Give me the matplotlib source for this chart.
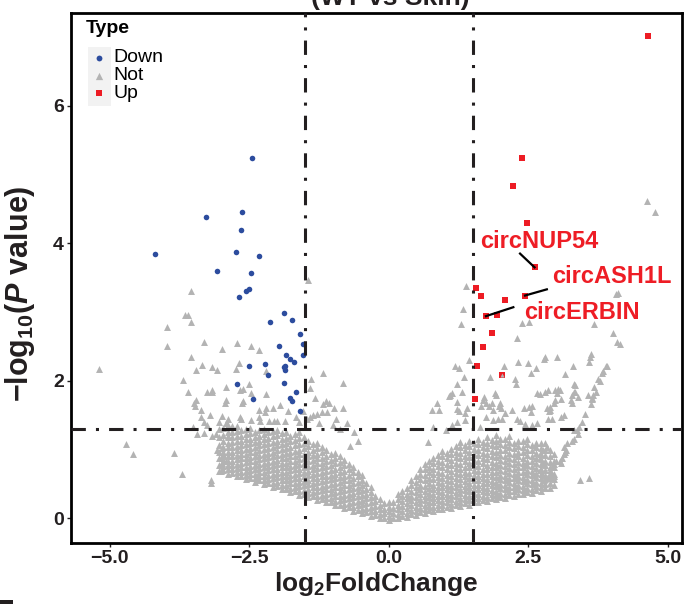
import numpy as np
import matplotlib.pyplot as plt
from matplotlib.patches import Rectangle

plt.rcParams['font.family'] = ['Liberation Sans', 'DejaVu Sans']
plt.rcParams['mathtext.fontset'] = 'custom'
plt.rcParams['mathtext.rm'] = 'Liberation Sans:bold'
plt.rcParams['mathtext.it'] = 'Liberation Sans:bold:italic'
plt.rcParams['mathtext.bf'] = 'Liberation Sans:bold'

# ---- data (log2FC, -log10 P) ----
down_fc = [-2.45, -3.28, -2.63, -2.65, -4.18, -2.74, -2.33, -3.07, -2.47, -2.50,
           -2.56, -2.68, -1.88, -2.13, -1.73, -1.59, -1.54, -1.96, -1.54, -1.84,
           -1.76, -1.69, -2.21, -2.50, -1.88, -1.85, -1.86, -2.16, -1.88, -2.71,
           -1.66, -2.44, -1.76, -1.74, -1.59]
down_p = [5.24, 4.38, 4.45, 4.19, 3.85, 3.87, 3.81, 3.60, 3.57, 3.33,
          3.30, 3.22, 2.98, 2.85, 2.88, 2.68, 2.54, 2.51, 2.37, 2.37,
          2.31, 2.27, 2.24, 2.22, 2.20, 2.21, 2.16, 2.09, 1.97, 1.95,
          1.83, 1.73, 1.75, 1.71, 1.56]

up_fc = [4.65, 2.39, 2.22, 2.47, 2.61, 1.56, 1.66, 2.08, 2.44, 1.74,
         1.94, 1.85, 1.68, 1.58, 2.02, 1.54]
up_p = [7.01, 5.24, 4.83, 4.30, 3.65, 3.35, 3.23, 3.18, 3.24, 2.94,
        2.95, 2.70, 2.49, 2.21, 2.08, 1.73]

# sparse "Not" points, left half
not_left = [
    (-5.19, 2.17), (-4.71, 1.08), (-4.58, 0.94), (-3.97, 2.78), (-3.98, 2.51),
    (-3.84, 0.95), (-3.71, 0.64), (-3.68, 2.01), (-3.65, 2.96), (-3.59, 2.95),
    (-3.55, 2.86), (-3.55, 3.31), (-3.54, 2.35), (-3.59, 1.83), (-3.51, 1.33),
    (-3.49, 1.68), (-3.47, 1.64), (-3.46, 1.72), (-3.46, 2.16), (-3.44, 1.22),
    (-3.37, 1.57), (-3.37, 1.47), (-3.34, 2.23), (-3.31, 2.56), (-3.31, 1.40),
    (-3.31, 1.24), (-3.26, 1.84), (-3.26, 1.35), (-3.20, 1.50), (-3.19, 0.56),
    (-3.19, 0.51), (-3.17, 1.83), (-3.16, 1.86), (-3.16, 2.20), (-3.16, 1.20),
    (-3.10, 1.23), (-3.08, 2.16), (-3.08, 0.99), (-3.04, 1.40), (-2.99, 2.46),
    (-2.99, 1.49), (-2.99, 1.02), (-2.99, 0.80), (-2.98, 0.87), (-2.97, 0.94),
    (-3.01, 0.69), (-2.94, 1.67), (-2.92, 1.72), (-2.91, 1.91), (-2.91, 1.39),
    (-2.91, 0.84), (-2.88, 1.45), (-2.88, 1.20), (-2.88, 0.77), (-2.73, 2.17),
    (-2.72, 2.55), (-2.68, 2.26), (-2.67, 1.86), (-2.67, 1.48), (-2.64, 1.45),
    (-2.62, 1.68), (-2.61, 1.88), (-2.61, 1.70), (-2.51, 1.95), (-2.47, 2.50),
    (-2.46, 1.82), (-2.46, 1.43), (-2.33, 2.45), (-2.33, 1.47), (-2.32, 1.57),
    (-2.30, 1.42), (-2.22, 1.55), (-2.20, 1.81), (-2.20, 1.60), (-2.19, 2.14),
    (-2.15, 1.42), (-2.08, 1.61), (-2.06, 1.42), (-2.01, 1.42), (-1.95, 1.65),
    (-1.85, 1.42), (-1.81, 1.56), (-1.66, 1.48), (-1.53, 1.56), (-1.47, 1.44),
    (-1.44, 3.46), (-1.41, 1.90), (-1.41, 1.47), (-1.39, 2.03), (-1.35, 1.50),
    (-1.32, 1.75), (-1.29, 1.52), (-1.20, 1.54), (-1.18, 2.12), (-1.18, 1.66),
    (-1.13, 1.70), (-1.11, 1.54), (-1.07, 1.67), (-0.98, 1.61), (-0.82, 1.97),
    (-0.82, 1.60), (-0.95, 1.45), (-0.75, 1.38), (-0.62, 1.25), (-0.88, 1.30),
    (-0.55, 1.12), (-0.70, 1.05), (-1.00, 1.35), (-1.25, 1.38), (-1.60, 1.40),
]

# sparse "Not" points, right half
not_right = [
    (4.63, 4.62), (4.76, 4.46), (4.07, 3.26), (4.11, 3.27), (1.38, 3.38),
    (1.32, 3.04), (1.29, 2.83), (2.39, 2.84), (2.51, 2.85), (3.68, 2.82),
    (2.29, 2.62), (4.01, 2.69), (4.08, 2.57), (4.14, 2.53), (2.80, 2.34),
    (3.01, 2.34), (2.78, 2.32), (3.62, 2.39), (3.61, 2.35), (3.58, 2.28),
    (3.29, 2.22), (3.90, 2.21), (1.19, 2.21), (1.25, 2.18), (1.44, 2.30),
    (1.34, 2.06), (1.81, 2.05), (2.07, 2.22), (2.32, 2.28), (2.49, 2.26),
    (2.54, 2.12), (2.64, 2.18), (2.26, 2.03), (2.28, 1.95), (2.80, 1.84),
    (2.85, 1.86), (2.97, 1.86), (3.03, 1.88), (3.16, 2.10), (3.31, 1.83),
    (3.26, 1.72), (3.09, 1.73), (2.97, 1.72), (2.66, 1.82), (2.51, 1.62),
    (3.33, 1.94), (3.57, 1.79), (3.66, 1.79), (3.64, 1.73), (3.75, 2.03),
    (3.78, 2.00), (3.82, 2.12), (3.84, 2.14), (3.89, 2.22), (1.13, 1.82),
    (1.10, 1.79), (1.31, 1.84), (1.23, 1.69), (1.91, 1.82), (1.80, 1.64),
    (1.97, 1.63), (1.22, 1.95), (2.71, 1.81), (1.07, 1.78), (1.92, 1.79),
    (1.71, 1.77), (0.86, 1.68), (1.68, 1.72), (1.74, 1.68), (1.66, 1.64),
    (1.25, 1.56), (1.22, 1.59), (1.40, 1.61), (1.37, 1.53), (0.77, 1.57),
    (0.90, 1.57), (1.84, 1.68), (1.99, 1.68), (1.87, 1.58), (2.01, 1.61),
    (2.08, 1.53), (2.21, 1.57), (2.42, 1.61), (2.57, 1.63), (2.55, 1.55),
    (2.84, 1.61), (2.87, 1.56), (2.85, 1.45), (1.74, 1.48), (1.87, 1.43),
    (1.96, 1.45), (2.02, 1.44), (2.29, 1.44), (2.35, 1.42), (2.44, 1.37),
    (2.56, 1.35), (2.65, 1.38), (2.93, 1.44), (1.22, 1.40), (1.37, 1.43),
    (1.63, 1.33), (0.80, 1.33), (1.02, 1.28), (1.13, 1.35), (0.71, 1.11),
    (3.67, 1.91), (3.71, 1.84), (3.63, 1.75), (3.62, 1.66), (3.51, 1.52),
    (3.31, 1.95), (3.33, 1.84), (3.28, 1.80), (3.38, 1.76), (3.28, 1.67),
    (3.07, 1.86), (3.01, 1.82), (2.95, 1.68), (2.89, 1.62), (2.89, 1.58),
    (3.13, 1.50), (3.09, 1.47), (3.46, 1.40), (3.41, 1.33), (3.37, 1.29),
    (3.39, 1.23), (3.31, 1.28), (3.32, 1.16), (3.28, 1.12), (3.19, 1.09),
    (3.14, 1.04), (3.18, 1.00), (3.15, 0.97), (3.13, 0.94), (3.10, 0.87),
    (3.07, 0.83), (3.08, 0.80), (3.00, 0.84), (2.95, 0.79), (2.92, 0.74),
    (2.89, 0.70), (2.92, 0.65), (2.96, 0.61), (2.88, 0.63), (2.83, 0.59),
    (2.78, 0.55), (3.43, 0.56), (3.58, 0.59), (2.80, 1.09), (2.83, 1.04),
    (2.76, 0.99), (2.71, 0.94), (2.71, 0.87), (2.74, 0.80), (2.71, 0.70),
    (2.74, 0.65),
]

# dense "Not" core, written column by column: x -> list of y
not_core_left = {
    -3.04: [0.69, 0.78, 0.87, 0.97, 1.07, 1.18, 1.30],
    -2.96: [0.70, 0.76, 0.83, 0.90, 0.97, 1.04, 1.12, 1.21, 1.32],
    -2.88: [0.65, 0.71, 0.77, 0.84, 0.90, 0.97, 1.03, 1.10, 1.18, 1.26, 1.35],
    -2.80: [0.66, 0.72, 0.78, 0.84, 0.91, 0.97, 1.04, 1.11, 1.18, 1.26, 1.34],
    -2.72: [0.61, 0.67, 0.73, 0.79, 0.86, 0.92, 0.99, 1.05, 1.12, 1.19, 1.27, 1.34],
    -2.64: [0.62, 0.68, 0.74, 0.80, 0.87, 0.93, 1.00, 1.06, 1.13, 1.20, 1.28],
    -2.56: [0.57, 0.63, 0.69, 0.75, 0.82, 0.88, 0.94, 1.01, 1.08, 1.15, 1.22, 1.30],
    -2.48: [0.58, 0.64, 0.70, 0.76, 0.83, 0.89, 0.96, 1.02, 1.09, 1.16, 1.24, 1.32],
    -2.40: [0.53, 0.59, 0.65, 0.72, 0.78, 0.84, 0.91, 0.97, 1.04, 1.11, 1.18, 1.26],
    -2.32: [0.55, 0.61, 0.67, 0.73, 0.79, 0.86, 0.92, 0.99, 1.06, 1.13, 1.20, 1.28],
    -2.24: [0.50, 0.56, 0.62, 0.68, 0.75, 0.81, 0.87, 0.94, 1.01, 1.08, 1.15, 1.23, 1.30],
    -2.16: [0.51, 0.57, 0.63, 0.70, 0.76, 0.82, 0.89, 0.95, 1.02, 1.09, 1.17, 1.25],
    -2.08: [0.46, 0.52, 0.58, 0.65, 0.71, 0.77, 0.84, 0.90, 0.97, 1.04, 1.11, 1.19, 1.27],
    -2.00: [0.47, 0.53, 0.60, 0.66, 0.72, 0.79, 0.85, 0.92, 0.99, 1.06, 1.13, 1.21, 1.29],
    -1.92: [0.42, 0.48, 0.55, 0.61, 0.67, 0.74, 0.80, 0.87, 0.94, 1.01, 1.08, 1.16, 1.24],
    -1.84: [0.43, 0.49, 0.56, 0.62, 0.68, 0.75, 0.81, 0.88, 0.95, 1.02, 1.09, 1.17, 1.25],
    -1.76: [0.38, 0.44, 0.51, 0.57, 0.63, 0.70, 0.76, 0.83, 0.90, 0.97, 1.04, 1.12, 1.20],
    -1.68: [0.39, 0.45, 0.52, 0.58, 0.65, 0.71, 0.78, 0.84, 0.91, 0.98, 1.06, 1.14, 1.22],
    -1.60: [0.34, 0.40, 0.47, 0.53, 0.59, 0.66, 0.72, 0.79, 0.86, 0.93, 1.00, 1.08, 1.17, 1.25],
    -1.52: [0.35, 0.41, 0.48, 0.54, 0.61, 0.67, 0.74, 0.80, 0.87, 0.94, 1.02, 1.10, 1.18],
    -1.44: [0.31, 0.37, 0.43, 0.50, 0.56, 0.63, 0.69, 0.76, 0.83, 0.90, 0.97, 1.05, 1.13],
    -1.36: [0.32, 0.38, 0.45, 0.51, 0.58, 0.64, 0.71, 0.78, 0.85, 0.92, 1.00, 1.08],
    -1.28: [0.27, 0.33, 0.40, 0.46, 0.53, 0.59, 0.66, 0.73, 0.80, 0.87, 0.94, 1.02, 1.09],
    -1.20: [0.28, 0.34, 0.41, 0.47, 0.54, 0.61, 0.67, 0.74, 0.81, 0.88, 0.96, 1.04],
    -1.12: [0.23, 0.29, 0.36, 0.42, 0.49, 0.55, 0.62, 0.69, 0.76, 0.83, 0.91, 0.99],
    -1.04: [0.24, 0.30, 0.37, 0.43, 0.50, 0.57, 0.63, 0.70, 0.77, 0.85, 0.93],
    -0.96: [0.19, 0.25, 0.32, 0.38, 0.45, 0.52, 0.58, 0.65, 0.72, 0.80, 0.88, 0.95],
    -0.88: [0.20, 0.26, 0.33, 0.39, 0.46, 0.53, 0.60, 0.67, 0.74, 0.82, 0.90],
    -0.80: [0.15, 0.21, 0.28, 0.34, 0.41, 0.48, 0.55, 0.62, 0.69, 0.77, 0.85],
    -0.72: [0.16, 0.22, 0.29, 0.36, 0.42, 0.49, 0.56, 0.63, 0.71, 0.79],
    -0.64: [0.11, 0.17, 0.24, 0.31, 0.37, 0.44, 0.51, 0.59, 0.67, 0.75],
    -0.56: [0.12, 0.19, 0.25, 0.32, 0.39, 0.46, 0.53, 0.61, 0.68],
    -0.48: [0.08, 0.14, 0.21, 0.27, 0.34, 0.41, 0.48, 0.56, 0.63],
    -0.40: [0.09, 0.15, 0.22, 0.29, 0.36, 0.43, 0.51],
    -0.32: [0.04, 0.10, 0.17, 0.24, 0.31, 0.38, 0.46],
    -0.24: [0.05, 0.11, 0.18, 0.25, 0.33],
    -0.16: [0.00, 0.06, 0.13, 0.20, 0.28],
    -0.08: [0.01, 0.07, 0.14, 0.22],
    0.00: [-0.03, 0.03, 0.10, 0.17, 0.24],
}
not_core_right = {
    0.08: [0.01, 0.08, 0.15, 0.23],
    0.16: [0.00, 0.06, 0.13, 0.20, 0.28, 0.35],
    0.24: [0.04, 0.11, 0.18, 0.25, 0.32, 0.40],
    0.32: [0.02, 0.08, 0.15, 0.22, 0.29, 0.36, 0.44],
    0.40: [0.06, 0.12, 0.19, 0.26, 0.33, 0.40, 0.48, 0.55],
    0.48: [0.05, 0.11, 0.17, 0.24, 0.31, 0.38, 0.45, 0.53, 0.61],
    0.56: [0.09, 0.15, 0.22, 0.28, 0.35, 0.42, 0.49, 0.57, 0.65, 0.72],
    0.64: [0.08, 0.14, 0.20, 0.27, 0.33, 0.40, 0.47, 0.55, 0.63, 0.71, 0.79],
    0.72: [0.12, 0.18, 0.24, 0.31, 0.37, 0.44, 0.51, 0.59, 0.67, 0.75, 0.83],
    0.80: [0.10, 0.16, 0.23, 0.29, 0.36, 0.42, 0.49, 0.57, 0.64, 0.72, 0.80, 0.88],
    0.88: [0.14, 0.20, 0.26, 0.33, 0.39, 0.46, 0.53, 0.60, 0.68, 0.76, 0.84, 0.92],
    0.96: [0.13, 0.19, 0.25, 0.32, 0.38, 0.45, 0.52, 0.59, 0.66, 0.74, 0.82, 0.90, 0.98],
    1.04: [0.17, 0.23, 0.29, 0.36, 0.42, 0.49, 0.56, 0.63, 0.71, 0.79, 0.87, 0.95],
    1.12: [0.15, 0.21, 0.28, 0.34, 0.41, 0.47, 0.54, 0.61, 0.69, 0.77, 0.85, 0.93, 1.01],
    1.20: [0.19, 0.25, 0.32, 0.38, 0.45, 0.51, 0.58, 0.66, 0.73, 0.81, 0.89, 0.97, 1.05],
    1.28: [0.18, 0.24, 0.30, 0.37, 0.43, 0.50, 0.57, 0.64, 0.71, 0.79, 0.87, 0.95, 1.03, 1.11],
    1.36: [0.22, 0.28, 0.34, 0.41, 0.47, 0.54, 0.61, 0.68, 0.75, 0.83, 0.91, 0.99, 1.07],
    1.44: [0.20, 0.26, 0.33, 0.39, 0.46, 0.52, 0.59, 0.66, 0.74, 0.81, 0.89, 0.97, 1.05, 1.13],
    1.52: [0.24, 0.30, 0.37, 0.43, 0.49, 0.56, 0.63, 0.70, 0.77, 0.85, 0.93, 1.01, 1.09],
    1.60: [0.23, 0.29, 0.35, 0.42, 0.48, 0.55, 0.62, 0.69, 0.76, 0.84, 0.92, 1.00, 1.08, 1.16],
    1.68: [0.26, 0.32, 0.39, 0.45, 0.52, 0.58, 0.65, 0.72, 0.80, 0.87, 0.95, 1.03, 1.11],
    1.76: [0.25, 0.31, 0.38, 0.44, 0.51, 0.57, 0.64, 0.71, 0.78, 0.86, 0.94, 1.02, 1.10, 1.18],
    1.84: [0.29, 0.35, 0.41, 0.48, 0.54, 0.61, 0.68, 0.75, 0.82, 0.90, 0.98, 1.06, 1.14],
    1.92: [0.28, 0.34, 0.40, 0.47, 0.53, 0.60, 0.67, 0.74, 0.81, 0.89, 0.97, 1.05, 1.13, 1.21],
    2.00: [0.31, 0.37, 0.44, 0.50, 0.57, 0.63, 0.70, 0.77, 0.85, 0.92, 1.00, 1.08, 1.16],
    2.08: [0.30, 0.36, 0.43, 0.49, 0.56, 0.62, 0.69, 0.76, 0.84, 0.91, 0.99, 1.07, 1.15],
    2.16: [0.34, 0.40, 0.46, 0.53, 0.59, 0.66, 0.73, 0.80, 0.87, 0.95, 1.03, 1.11, 1.19],
    2.24: [0.33, 0.39, 0.45, 0.52, 0.58, 0.65, 0.72, 0.79, 0.86, 0.94, 1.02, 1.10],
    2.32: [0.36, 0.42, 0.49, 0.55, 0.62, 0.68, 0.75, 0.82, 0.90, 0.97, 1.05, 1.13],
    2.40: [0.35, 0.41, 0.47, 0.54, 0.60, 0.67, 0.74, 0.81, 0.88, 0.96, 1.04, 1.12],
    2.48: [0.38, 0.44, 0.51, 0.57, 0.64, 0.70, 0.77, 0.84, 0.92, 1.00, 1.08, 1.15],
    2.56: [0.37, 0.43, 0.50, 0.56, 0.63, 0.69, 0.76, 0.83, 0.91, 0.99, 1.07],
    2.64: [0.41, 0.47, 0.53, 0.60, 0.66, 0.73, 0.80, 0.87, 0.95, 1.03, 1.10],
    2.72: [0.40, 0.46, 0.52, 0.59, 0.65, 0.72, 0.79, 0.86, 0.94, 1.02, 1.09],
    2.80: [0.44, 0.50, 0.57, 0.63, 0.70, 0.77, 0.84, 0.92, 1.00],
    2.88: [0.44, 0.51, 0.58, 0.66, 0.74, 0.82, 0.91, 0.99],
    2.96: [0.49, 0.57, 0.65, 0.74, 0.84, 0.94],
}
# one grey point drawn on top of a red one
not_front = [(2.02, 2.08)]

# labelled circRNAs
label_names = ['circNUP54', 'circASH1L', 'circERBIN']
label_fc = [2.61, 2.44, 1.74]
label_p = [3.65, 3.24, 2.94]

fc_cut = 1.5
p_cut = -np.log10(0.05)

type_names = ['Down', 'Not', 'Up']
type_colors = ['#2C4C9E', '#B3B3B3', '#ED1C24']
type_markers = ['o', '^', 's']
type_sizes = [16, 25, 19]

ink = '#231F20'

# ---- assemble grey points ----
nx, ny = [], []
for pts in (not_left, not_right):
    for x, y in pts:
        nx.append(x)
        ny.append(y)
for core in (not_core_left, not_core_right):
    for x, ys in core.items():
        for y in ys:
            nx.append(x)
            ny.append(y)

fig = plt.figure(figsize=(6.84, 6.04), dpi=100)
ax = fig.add_axes([71 / 684, 61 / 604, 611 / 684, 530 / 604])

ax.scatter(nx, ny, s=type_sizes[1], marker='^', color=type_colors[1], linewidths=0, zorder=2)
ax.scatter(down_fc, down_p, s=type_sizes[0], marker='o', color=type_colors[0], linewidths=0, zorder=3)
ax.scatter(up_fc, up_p, s=type_sizes[2], marker='s', color=type_colors[2], linewidths=0, zorder=3)
fx, fy = zip(*not_front)
ax.scatter(fx, fy, s=9, marker='^', color=type_colors[1], linewidths=0, zorder=4)

dash = (0, (4.7, 3.3, 1.0, 3.3))
for v in (-fc_cut, fc_cut):
    ax.axvline(v, color=ink, lw=2.2, linestyle=dash, dash_capstyle='butt', zorder=5)
ax.axhline(p_cut, color=ink, lw=2.2, linestyle=dash, dash_capstyle='butt', zorder=5)

# labels with leader lines
text_pos = [(2.69, 4.03), (4.00, 3.51), (3.46, 3.00)]
line_end = [(2.35, 3.85), (2.83, 3.33), (2.23, 3.07)]
for name, x, y, tp, le in zip(label_names, label_fc, label_p, text_pos, line_end):
    ax.plot([x, le[0]], [y, le[1]], color='black', lw=1.6, zorder=6)
    ax.text(tp[0], tp[1], name, color='#EE1D25', fontsize=17, fontweight='bold',
            ha='center', va='center', zorder=7)

ax.set_xlim(-5.69, 5.25)
ax.set_ylim(-0.36, 7.35)
ax.set_xticks([-5, -2.5, 0, 2.5, 5])
ax.set_xticklabels(['\u22125.0', '\u22122.5', '0.0', '2.5', '5.0'])
ax.set_yticks([0, 2, 4, 6])
ax.tick_params(length=3, width=1, color=ink, labelcolor=ink, labelsize=14, pad=2)
for lab in ax.get_xticklabels() + ax.get_yticklabels():
    lab.set_fontweight('bold')
for sp in ax.spines.values():
    sp.set_linewidth(2)
    sp.set_color('black')

ax.set_xlabel(r'$\mathrm{log_2FoldChange}$', fontsize=19, color=ink, labelpad=2)
ax.set_ylabel(r'$\mathrm{-log_{10}(}\mathit{P}\mathrm{\ value)}$', fontsize=22, color=ink)
ax.yaxis.set_label_coords(-0.056, 0.47)

# legend
ax.text(0.0245, 0.970, 'Type', transform=ax.transAxes, fontsize=14, fontweight='bold',
        color='black', va='center', ha='left')
ax.add_patch(Rectangle((0.028, 0.824), 0.038, 0.112, transform=ax.transAxes,
                       facecolor='#F2F2F2', edgecolor='none', zorder=1))
key_y = [0.916, 0.882, 0.849]
for name, col, mk, sz, ky in zip(type_names, type_colors, type_markers, type_sizes, key_y):
    ax.scatter([0.046], [ky], transform=ax.transAxes, marker=mk, s=sz * 1.1, color=col,
               linewidths=0, zorder=8, clip_on=False)
    ax.text(0.069, ky, name, transform=ax.transAxes, fontsize=14, color='black',
            va='center', ha='left')

fig.text(390 / 684, 0.991, '(WT vs Skin)', ha='center', va='baseline', fontsize=19,
         fontweight='bold', color=ink)
fig.patches.append(Rectangle((0, 0), 13 / 684, 4 / 604, transform=fig.transFigure,
                             facecolor=ink, edgecolor='none'))

fig.savefig('out.png', dpi=100)
